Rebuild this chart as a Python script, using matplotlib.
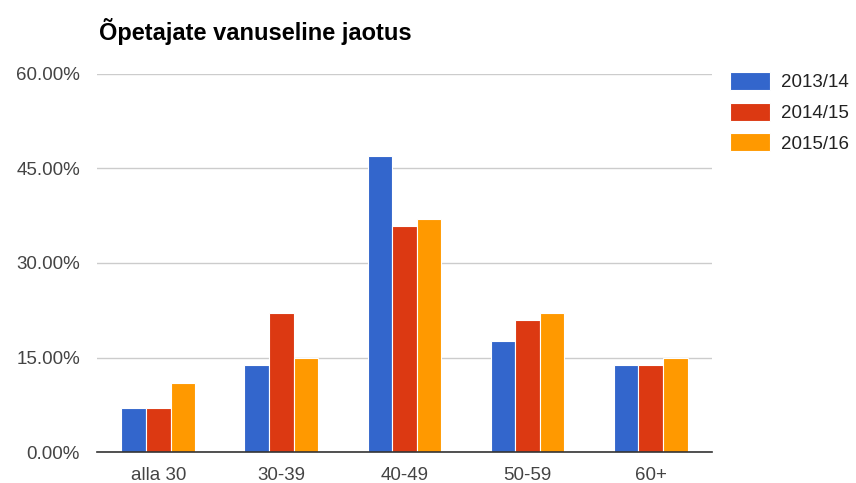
import numpy as np
import matplotlib
matplotlib.use("Agg")
import matplotlib.pyplot as plt
from matplotlib.ticker import FuncFormatter

# data
categories = ["alla 30", "30-39", "40-49", "50-59", "60+"]
years = ["2013/14", "2014/15", "2015/16"]
share_2013 = [7.0, 13.8, 47.0, 17.7, 13.8]
share_2014 = [7.0, 22.0, 35.9, 21.0, 13.8]
share_2015 = [11.0, 14.9, 37.0, 22.0, 14.9]
colors = ["#3366cc", "#dc3912", "#ff9900"]

plt.rcParams["font.family"] = ["Liberation Sans", "DejaVu Sans"]

fig = plt.figure(figsize=(8.56, 4.83), dpi=100)
ax = fig.add_axes([0.113, 0.064, 0.719, 0.783])

x = np.arange(len(categories))
w = 0.2
for i, (vals, lab) in enumerate(zip([share_2013, share_2014, share_2015], years)):
    ax.bar(x + (i - 1) * w, vals, width=w, color=colors[i], label=lab,
           edgecolor="white", linewidth=0.8, zorder=3)

ax.set_xlim(-0.5, len(categories) - 0.5)
ax.set_ylim(0, 60)
ax.set_yticks([0, 15, 30, 45, 60])
ax.yaxis.set_major_formatter(FuncFormatter(lambda v, p: f"{v:.2f}%"))
ax.set_xticks(x)
ax.set_xticklabels(categories)
ax.tick_params(axis="both", length=0, labelsize=13.5, labelcolor="#444444")
ax.tick_params(axis="y", pad=12)
ax.tick_params(axis="x", pad=11)
ax.grid(axis="y", color="#cccccc", linewidth=1, zorder=0)

for s in ["top", "right", "left"]:
    ax.spines[s].set_visible(False)
ax.spines["bottom"].set_color("#333333")
ax.spines["bottom"].set_linewidth(1.2)
ax.spines["bottom"].set_zorder(4)

fig.text(0.116, 0.935, "Õpetajate vanuseline jaotus", fontsize=17,
         fontweight="bold", color="#000000", va="center", ha="left")

ax.legend(loc="upper left", bbox_to_anchor=(0.853, 0.851),
          bbox_transform=fig.transFigure, frameon=False, fontsize=13.5,
          handlelength=2.15, handleheight=1.1, labelspacing=0.6,
          handletextpad=0.55, borderaxespad=0, borderpad=0,
          labelcolor="#222222")

fig.savefig("out.png", dpi=100, facecolor="white")
